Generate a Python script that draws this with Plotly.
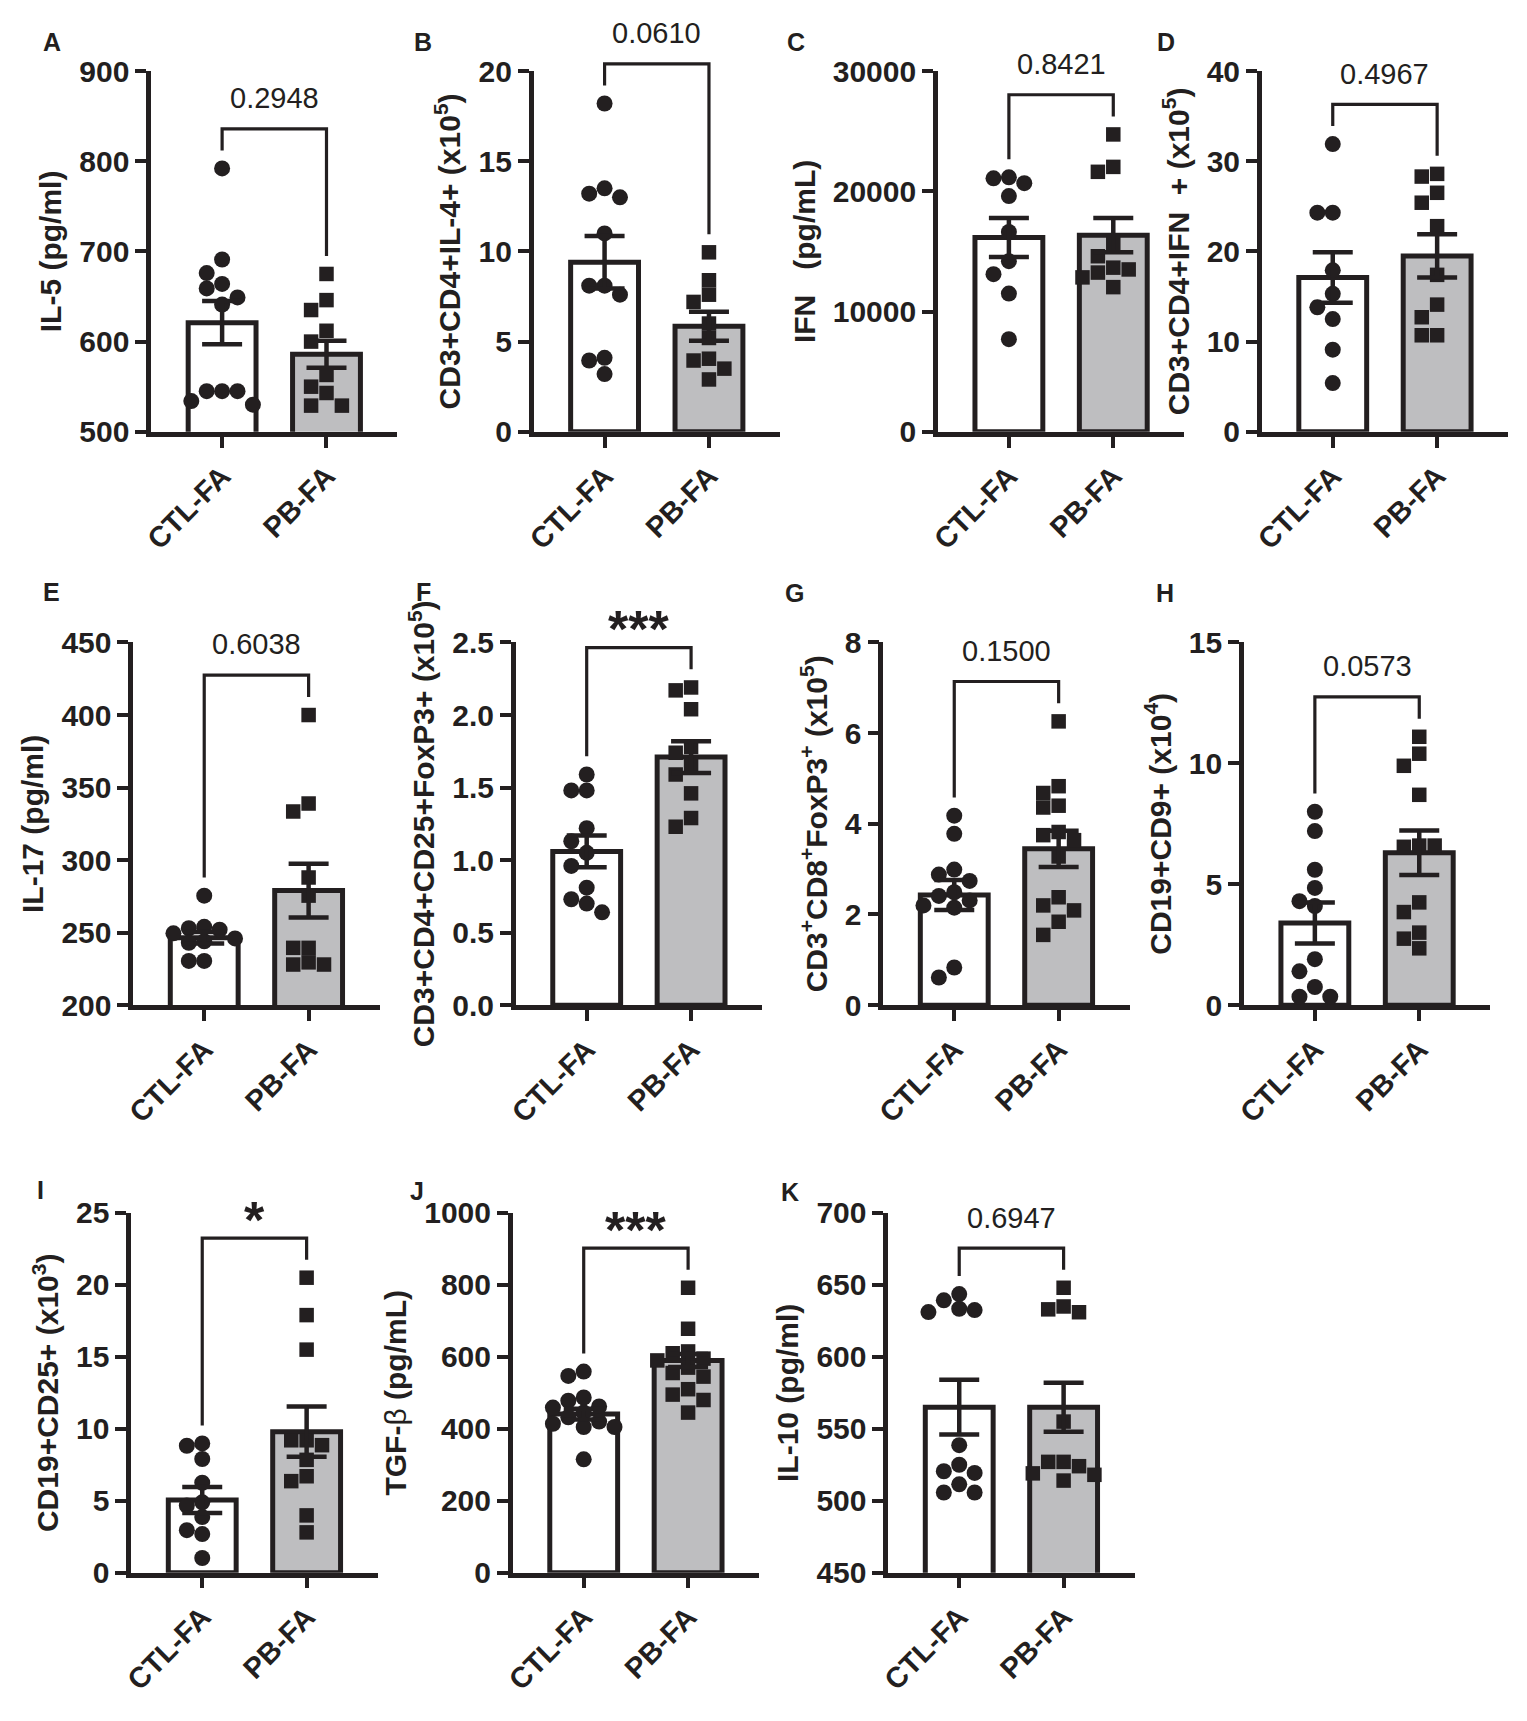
import plotly.graph_objects as go

W, H = 1527, 1721
OFF = 8                     # default page margin of the html body
FW, FH = W - OFF, H - OFF   # figure size so it fits the window
DARK = '#231F20'
GREY = '#BEBEC0'
FONT = 'Liberation Sans, Arial, sans-serif'

groups = ['CTL-FA', 'PB-FA']

# ---------------- data ----------------
a_ctl = [792, 691, 676, 664, 659, 649, 641, 545, 545, 545, 534, 530]
a_pb = [675, 646, 635, 612, 600, 563, 550, 543, 529, 529]
a_mean = [621, 586]
a_sem = [24, 15]

b_ctl = [18.2, 13.5, 13.2, 13.0, 11.0, 8.1, 8.1, 7.6, 4.1, 3.95, 3.2]
b_pb = [9.95, 8.4, 7.6, 7.2, 6.0, 5.2, 4.05, 3.95, 3.5, 2.9]
b_mean = [9.4, 5.85]
b_sem = [1.45, 0.8]

c_ctl = [21160, 21080, 20680, 19600, 16620, 14190, 13110, 11490, 7700]
c_pb = [24730, 22030, 21620, 15680, 14600, 13650, 13500, 13240, 12840, 12030]
c_mean = [16160, 16350]
c_sem = [1620, 1420]

d_ctl = [31.9, 24.3, 24.3, 17.9, 15.3, 13.8, 12.5, 9.1, 5.4]
d_pb = [28.6, 28.3, 26.5, 25.4, 22.8, 17.4, 14.1, 12.7, 10.7, 10.7]
d_mean = [17.1, 19.5]
d_sem = [2.8, 2.4]

e_ctl = [275.5, 254, 253, 252, 249.5, 246, 244, 243, 230.5, 230.5]
e_pb = [400, 339, 333.5, 288, 275.5, 239.5, 239.5, 229.5, 228, 228]
e_mean = [246.5, 279]
e_sem = [4, 18.5]

f_ctl = [1.59, 1.48, 1.48, 1.22, 1.13, 1.05, 0.96, 0.81, 0.73, 0.70, 0.64]
f_pb = [2.19, 2.17, 2.04, 1.78, 1.74, 1.66, 1.59, 1.46, 1.29, 1.23]
f_mean = [1.06, 1.71]
f_sem = [0.11, 0.11]

g_ctl = [4.18, 3.78, 2.99, 2.88, 2.74, 2.49, 2.41, 2.31, 2.2, 2.15, 0.83, 0.61]
g_pb = [6.26, 4.83, 4.68, 4.40, 4.36, 3.82, 3.75, 3.64, 3.28, 2.38, 2.2, 2.09, 1.84, 1.55]
g_mean = [2.43, 3.45]
g_sem = [0.33, 0.4]

h_ctl = [8.0, 7.2, 5.6, 4.85, 4.3, 4.1, 1.9, 1.4, 0.75, 0.35, 0.35]
h_pb = [11.1, 10.4, 9.9, 8.7, 6.6, 6.55, 6.6, 4.25, 3.85, 3.0, 2.75, 2.35]
h_mean = [3.4, 6.3]
h_sem = [0.85, 0.92]

i_ctl = [8.98, 8.82, 7.9, 6.25, 4.89, 4.66, 3.86, 2.95, 2.68, 1.02]
i_pb = [20.5, 17.9, 15.5, 9.2, 9.2, 8.86, 7.84, 6.7, 6.36, 3.98, 2.8]
i_mean = [5.05, 9.8]
i_sem = [0.9, 1.75]

j_ctl = [559, 547, 487, 478, 462, 459, 445, 432, 420, 414, 405, 405, 315]
j_pb = [792, 678, 615, 610, 595, 590, 570, 555, 545, 510, 495, 480, 445]
j_mean = [441, 590]
j_sem = [15, 18]

k_ctl = [643.6, 639.3, 633.4, 632.5, 631.1, 538.6, 525, 520.5, 519.3, 511.4, 505.7, 505.7]
k_pb = [648, 635, 633, 631, 555, 527, 527, 524, 519, 518, 514]
k_mean = [565, 565]
k_sem = [19, 17]

letters = ['A', 'B', 'C', 'D', 'E', 'F', 'G', 'H', 'I', 'J', 'K']
y_titles = [
    'IL-5 (pg/ml)',
    'CD3+CD4+IL-4+ (x10<sup>5</sup>)',
    'IFN\u00a0\u00a0\u00a0(pg/mL)',
    'CD3+CD4+IFN\u00a0\u00a0+ (x10<sup>5</sup>)',
    'IL-17 (pg/ml)',
    'CD3+CD4+CD25+FoxP3+ (x10<sup>5</sup>)',
    'CD3<sup>+</sup>CD8<sup>+</sup>FoxP3<sup>+</sup> (x10<sup>5</sup>)',
    'CD19+CD9+ (x10<sup>4</sup>)',
    'CD19+CD25+ (x10<sup>3</sup>)',
    "TGF-<span style='font-weight:normal'>β</span> (pg/mL)",
    'IL-10 (pg/ml)',
]
p_labels = ['0.2948', '0.0610', '0.8421', '0.4967', '0.6038', '***',
            '0.1500', '0.0573', '*', '***', '0.6947']
y_ranges = [(500, 900), (0, 20), (0, 30000), (0, 40), (200, 450), (0, 2.5),
            (0, 8), (0, 15), (0, 25), (0, 1000), (450, 700)]
y_dticks = [100, 5, 10000, 10, 50, 0.5, 2, 5, 5, 200, 50]
y_formats = ['d', '', 'd', '', 'd', '.1f', '', '', '', 'd', 'd']

ctl_sets = [a_ctl, b_ctl, c_ctl, d_ctl, e_ctl, f_ctl, g_ctl, h_ctl, i_ctl, j_ctl, k_ctl]
pb_sets = [a_pb, b_pb, c_pb, d_pb, e_pb, f_pb, g_pb, h_pb, i_pb, j_pb, k_pb]
mean_sets = [a_mean, b_mean, c_mean, d_mean, e_mean, f_mean, g_mean, h_mean, i_mean, j_mean, k_mean]
sem_sets = [a_sem, b_sem, c_sem, d_sem, e_sem, f_sem, g_sem, h_sem, i_sem, j_sem, k_sem]

# ---------------- layout geometry (pixels in the 1527x1721 picture) ----------------
panel_x0 = [142, 527, 934, 1260, 124, 509, 879, 1242, 122, 506, 884]
panel_row = [0, 0, 0, 0, 1, 1, 1, 1, 2, 2, 2]
row_top = [55, 638, 1220]
row_bot = [423, 1008, 1587]
PANEL_W = 248
XR = (-0.68, 1.68)
PX_PER_X = PANEL_W / (XR[1] - XR[0])
letter_pos = [(42, 25), (416, 25), (791, 25), (1164, 25),
              (42, 586), (416, 586), (790, 587), (1163, 587),
              (31, 1197), (410, 1198), (785, 1199)]


def fx(px):
    return (px - OFF) / FW


def fy(py):
    return 1 - (py - OFF) / FH


def swarm(vals, px_per_y, step=15.5, thr=14.5):
    placed = []
    offs = []
    order = [0, -1, 1, -2, 2, -3, 3, -4, 4]
    for v in vals:
        y = v * px_per_y
        x = 0
        for k in order:
            x = k * step
            if all((x - px) ** 2 + (y - py) ** 2 >= thr ** 2 for px, py in placed):
                break
        placed.append((x, y))
        offs.append(x / PX_PER_X)
    return offs


fig = go.Figure()
shapes = []
annotations = []
layout_axes = {}

for n in range(11):
    idx = '' if n == 0 else str(n + 1)
    xa, ya = 'x' + idx, 'y' + idx
    lo, hi = y_ranges[n]
    span = hi - lo
    r = panel_row[n]
    top_px, bot_px = row_top[r], row_bot[r]
    dom_y = [fy(bot_px), fy(top_px)]
    dom_x = [fx(panel_x0[n]), fx(panel_x0[n] + PANEL_W)]
    px_per_y = (bot_px - top_px) / span

    means = mean_sets[n]
    sems = sem_sets[n]
    ctl, pb = ctl_sets[n], pb_sets[n]

    fig.add_trace(go.Bar(
        x=[0, 1], y=means, width=0.65, xaxis=xa, yaxis=ya,
        marker=dict(color=['white', GREY], line=dict(color=DARK, width=5)),
        showlegend=False, hoverinfo='skip'))

    jc = swarm(ctl, px_per_y)
    jp = swarm(pb, px_per_y)
    fig.add_trace(go.Scatter(
        x=[0 + o for o in jc], y=ctl, mode='markers', xaxis=xa, yaxis=ya,
        marker=dict(symbol='circle', size=16, color=DARK, line=dict(width=0)),
        cliponaxis=False, showlegend=False))
    fig.add_trace(go.Scatter(
        x=[1 + o for o in jp], y=pb, mode='markers', xaxis=xa, yaxis=ya,
        marker=dict(symbol='square', size=14.5, color=DARK, line=dict(width=0)),
        cliponaxis=False, showlegend=False))
    fig.add_trace(go.Scatter(
        x=[0, 1], y=means, mode='markers', xaxis=xa, yaxis=ya,
        marker=dict(size=1, color='rgba(0,0,0,0)'),
        error_y=dict(type='data', array=sems, visible=True, thickness=4.5,
                     width=20, color=DARK),
        cliponaxis=False, showlegend=False, hoverinfo='skip'))

    layout_axes['xaxis' + idx] = dict(
        domain=dom_x, range=list(XR), anchor=ya, tickmode='array',
        tickvals=[0, 1], ticktext=groups, tickangle=-45,
        showline=True, linewidth=4.5, linecolor=DARK, ticks='outside',
        ticklen=11, tickwidth=4, tickcolor=DARK, showgrid=False, zeroline=False,
        tickfont=dict(family=FONT, size=29, color=DARK, weight='bold'))
    layout_axes['yaxis' + idx] = dict(
        domain=dom_y, range=[lo, hi], anchor=xa, tickmode='linear', tick0=lo,
        dtick=y_dticks[n], tickformat=y_formats[n],
        showline=True, linewidth=4.5, linecolor=DARK, ticks='outside',
        ticklen=11, tickwidth=4, tickcolor=DARK, showgrid=False, zeroline=False,
        tickfont=dict(family=FONT, size=30, color=DARK, weight='bold'),
        title=dict(text=y_titles[n], standoff=10,
                   font=dict(family=FONT, size=30, color=DARK, weight='bold')))

    # significance bracket, drawn just above each group's highest point
    legL = max(ctl) + 0.05 * span
    legR = max(pb) + 0.05 * span
    top = max(legL, legR) + 0.06 * span

    def yp(v):
        return dom_y[0] + (v - lo) / span * (dom_y[1] - dom_y[0])

    shapes.append(dict(
        type='path', xref=xa, yref='paper',
        path=f'M 0,{yp(legL)} L 0,{yp(top)} L 1,{yp(top)} L 1,{yp(legR)}',
        line=dict(color=DARK, width=3.2)))
    lab = p_labels[n]
    if '*' in lab:
        annotations.append(dict(
            xref=xa, yref='paper', x=0.5, y=yp(top + 0.05 * span), text=lab,
            showarrow=False, yanchor='middle', xanchor='center',
            font=dict(family=FONT, size=52, color=DARK, weight='bold')))
    else:
        annotations.append(dict(
            xref=xa, yref='paper', x=0.5, y=yp(top + 0.085 * span), text=lab,
            showarrow=False, yanchor='middle', xanchor='center',
            font=dict(family=FONT, size=29, color=DARK)))

    lx, ly = letter_pos[n]
    annotations.append(dict(
        xref='paper', yref='paper', x=fx(lx), y=fy(ly), text=letters[n],
        showarrow=False, xanchor='center', yanchor='middle',
        font=dict(family=FONT, size=25, color=DARK, weight='bold')))

fig.update_layout(
    width=FW, height=FH, margin=dict(l=0, r=0, t=0, b=0),
    paper_bgcolor='white', plot_bgcolor='white',
    shapes=shapes, annotations=annotations, showlegend=False,
    font=dict(family=FONT, color=DARK), **layout_axes)

fig.write_html('out.html')
